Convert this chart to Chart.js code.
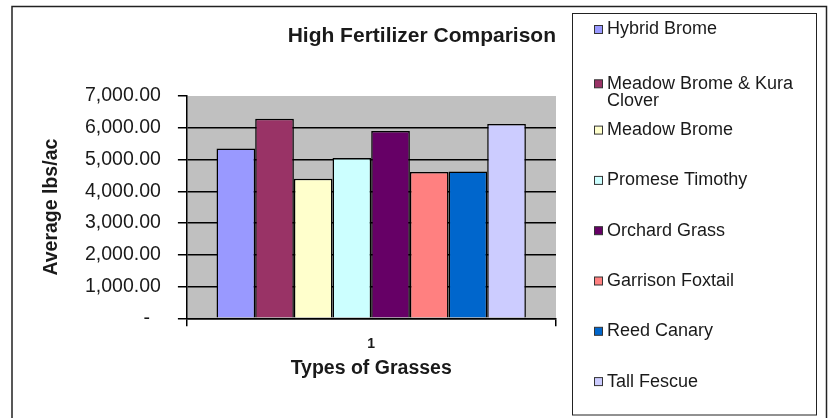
<!DOCTYPE html>
<html lang="en">
<head>
  <meta charset="UTF-8">
  <title>High Fertilizer Comparison</title>
  <script src="https://cdn.jsdelivr.net/npm/chart.js@4/dist/chart.umd.min.js"></script>
  <style>
    body { margin: 0; background: #fff; }
    #wrap { width: 833px; height: 418px; position: relative; }
  </style>
</head>
<body>
  <div id="wrap">
    <canvas id="grassChart"></canvas>
  </div>

  <script>
    // data
    const categories = ['1'];
    const grassNames = [
      'Hybrid Brome',
      'Meadow Brome & Kura Clover',
      'Meadow Brome',
      'Promese Timothy',
      'Orchard Grass',
      'Garrison Foxtail',
      'Reed Canary',
      'Tall Fescue'
    ];
    const grassYields = [5350, 6283, 4394, 5046, 5896, 4605, 4626, 6116];
    const grassColors = ['#9999FF', '#993366', '#FFFFCC', '#CCFFFF', '#660066', '#FF8080', '#0066CC', '#CCCCFF'];
    const yMax = 7000;
    const yStep = 1000;

    const FONT = '"Liberation Sans", Arial, sans-serif';
    const INK = '#1a1a1a';

    // wrap a legend label into lines that fit the box
    function wrapText(ctx, text, maxW) {
      const words = text.split(' ');
      const lines = [];
      let line = '';
      words.forEach(w => {
        const test = line ? line + ' ' + w : w;
        if (line && ctx.measureText(test).width > maxW) {
          lines.push(line);
          line = w;
        } else {
          line = test;
        }
      });
      if (line) lines.push(line);
      return lines;
    }

    // grey plot area, outer frame and the boxed legend on the right
    const excelLook = {
      id: 'excelLook',
      beforeDraw(chart) {
        const { ctx, chartArea: a } = chart;
        ctx.save();
        ctx.fillStyle = '#fff';
        ctx.fillRect(0, 0, chart.width, chart.height);
        ctx.fillStyle = '#C0C0C0';
        ctx.fillRect(a.left, a.top, a.right - a.left, a.bottom - a.top);
        ctx.restore();
      },
      afterDraw(chart) {
        const ctx = chart.ctx;
        ctx.save();
        ctx.strokeStyle = '#222';
        ctx.lineWidth = 1.5;
        ctx.strokeRect(12, 6.5, 814.5, 420);
        ctx.lineWidth = 1;
        ctx.strokeRect(572.5, 13.5, 244, 401.5);

        ctx.font = '18px ' + FONT;
        ctx.textBaseline = 'middle';
        ctx.textAlign = 'left';
        chart.data.datasets.forEach((ds, i) => {
          const rowY = 29.5 + i * 50.3;
          const lines = wrapText(ctx, ds.label, 200);
          const y0 = lines.length > 1 ? rowY + 4 : rowY;
          ctx.fillStyle = ds.backgroundColor;
          ctx.fillRect(594.5, y0 - 4, 8, 8);
          ctx.strokeStyle = '#333';
          ctx.strokeRect(594.5, y0 - 4, 8, 8);
          ctx.fillStyle = INK;
          lines.forEach((ln, k) => ctx.fillText(ln, 607, y0 + k * 17));
        });
        ctx.restore();
      }
    };

    const datasets = grassNames.map((name, i) => ({
      label: name,
      data: [grassYields[i]],
      backgroundColor: grassColors[i],
      borderColor: '#000',
      borderWidth: 1.5,
      barPercentage: 1,
      categoryPercentage: 0.837
    }));

    new Chart(document.getElementById('grassChart'), {
      type: 'bar',
      data: { labels: categories, datasets: datasets },
      plugins: [excelLook],
      options: {
        responsive: true,
        maintainAspectRatio: false,
        animation: false,
        layout: { padding: { left: 12, right: 277, top: 0, bottom: 2 } },
        plugins: {
          legend: { display: false },
          tooltip: { enabled: false },
          title: {
            display: true,
            text: 'High Fertilizer Comparison',
            align: 'end',
            color: INK,
            font: { family: FONT, size: 21, weight: 'bold' },
            padding: { top: 24, bottom: 46.8 }
          }
        },
        scales: {
          x: {
            grid: { offset: true, drawOnChartArea: false, color: '#000', tickLength: 8, lineWidth: 1.5 },
            border: { color: '#000', width: 1.5 },
            ticks: { color: INK, padding: 9.8, font: { family: FONT, size: 14, weight: 'bold' } },
            title: {
              display: true,
              text: 'Types of Grasses',
              color: INK,
              font: { family: FONT, size: 19.5, weight: 'bold' },
              padding: { top: 4, bottom: 35.8 }
            },
            afterFit(scale) { scale.height = 97.7; }
          },
          y: {
            min: 0,
            max: yMax,
            grid: {
              color: c => (c.tick && c.tick.value === yMax) ? 'rgba(0,0,0,0)' : '#000',
              tickColor: '#000',
              tickLength: 8.5,
              lineWidth: 1.5
            },
            border: { color: '#000', width: 1.5 },
            ticks: {
              stepSize: yStep,
              color: INK,
              padding: 17,
              font: { family: FONT, size: 19.5 },
              callback: v => v === 0 ? '-  ' : v.toLocaleString('en-US', { minimumFractionDigits: 2, maximumFractionDigits: 2 })
            },
            title: {
              display: true,
              text: 'Average lbs/ac',
              color: INK,
              font: { family: FONT, size: 19.5, weight: 'bold' },
              padding: { top: 27.5, bottom: 4 }
            },
            afterFit(scale) { scale.width = 174.4; }
          }
        }
      }
    });
  </script>
</body>
</html>
